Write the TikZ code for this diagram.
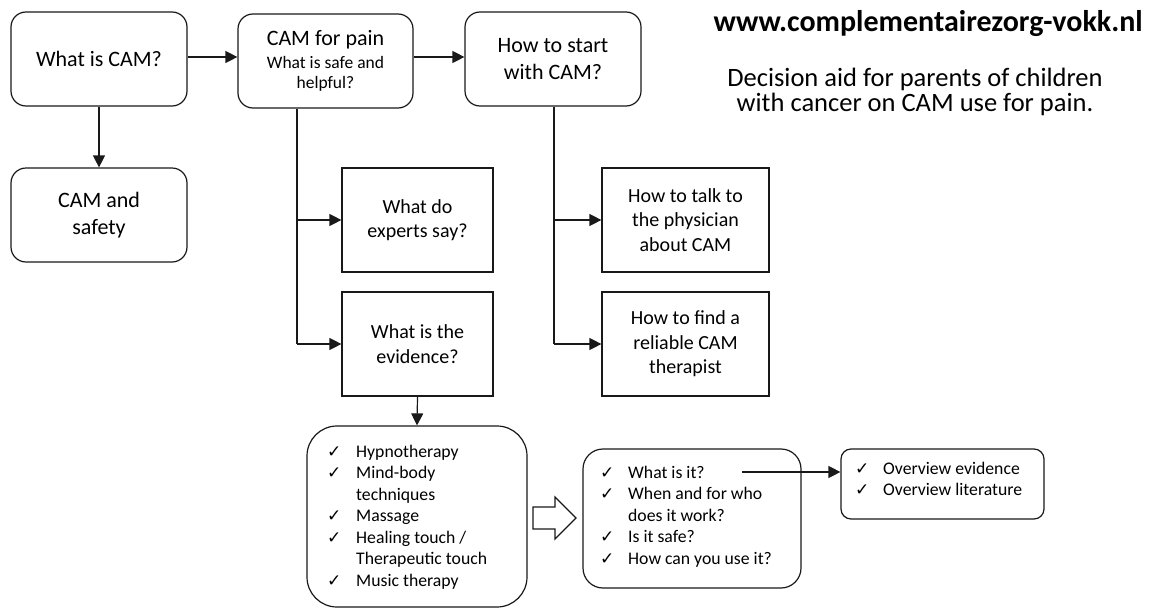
\documentclass[tikz,border=0pt]{standalone}
\usepackage{fontspec}
\setmainfont{Carlito}
\newfontfamily\dv{DejaVu Sans}
\usetikzlibrary{arrows.meta,calc}
\newcommand\ck{\makebox[29pt][l]{\dv\fontsize{17}{17}\selectfont ✓}}
\newcommand\cm{\makebox[28pt][l]{\dv\fontsize{17}{17}\selectfont ✓}}
\begin{document}
\begin{tikzpicture}[x=1pt,y=-1pt,
  line/.style={draw=black!90, line width=1.2pt},
  rbox/.style={line, rounded corners=15pt, minimum width=176pt, minimum height=94pt,
    inner sep=0pt, align=flush center, text width=170pt, font=\fontsize{22}{26.5}\selectfont},
  sbox/.style={line, minimum height=104pt, inner sep=0pt, align=flush center,
    font=\fontsize{20}{24.5}\selectfont},
  arr/.style={line, -{Triangle[length=12pt,width=12pt]}},
  listtxt/.style={anchor=base west, inner sep=0pt, font=\fontsize{17.7}{21.5}\selectfont}
]
\useasboundingbox (0,0) rectangle (1152,608);

% top row
\node[rbox] (wcam) at (99,59) {What is CAM?};
\node[rbox, minimum width=175pt] (cpain) at (325.5,61)
  {CAM for pain\par\vspace{3pt}{\fontsize{17.5}{20}\selectfont What is safe and\\helpful?\par}};
\node[rbox] (hstart) at (553,59) {How to start\\with CAM?};
\node[rbox] (csafe) at (99,215) {CAM and\\safety};

% square boxes
\node[sbox, minimum width=151pt, text width=145pt] (experts) at (417.5,220) {What do\\experts say?};
\node[sbox, minimum width=151pt, text width=145pt] (evid) at (417.5,344) {What is the\\evidence?};
\node[sbox, minimum width=167pt, text width=160pt] (talk) at (685.5,220) {How to talk to\\the physician\\about CAM};
\node[sbox, minimum width=167pt, text width=160pt] (find) at (685.5,344) {How to find a\\reliable CAM\\therapist};

% list boxes
\node[line, rounded corners=30pt, minimum width=220pt, minimum height=181pt, inner sep=0pt] (list) at (417,516.5) {};
\node[listtxt] (listt) at (327,457) {\begin{tabular}[t]{@{}l@{}l@{}}
\ck & Hypnotherapy\\
\ck & Mind-body\\
    & techniques\\
\ck & Massage\\
\ck & Healing touch /\\
    & Therapeutic touch\\
\ck & Music therapy
\end{tabular}};

\node[line, rounded corners=20pt, minimum width=218pt, minimum height=139pt, inner sep=0pt] (mid) at (692,518.5) {};
\node[listtxt] (midt) at (600,478) {\begin{tabular}[t]{@{}l@{}l@{}}
\cm & What is it?\\
\cm & When and for who\\
    & does it work?\\
\cm & Is it safe?\\
\cm & How can you use it?
\end{tabular}};

\node[line, rounded corners=10pt, minimum width=203pt, minimum height=70pt, inner sep=0pt] (over) at (942.5,484) {};
\node[listtxt] (overt) at (855,474) {\begin{tabular}[t]{@{}l@{}l@{}}
\cm & Overview evidence\\
\cm & Overview literature
\end{tabular}};

% header
\node[anchor=base east, inner sep=0pt, font=\bfseries\fontsize{30}{36}\selectfont] (url) at (1143,31) {www.complementairezorg-vokk.nl};
\node[inner sep=0pt, align=flush center, font=\fontsize{26.5}{25}\selectfont] (desc) at (915,92) {Decision aid for parents of children\\with cancer on CAM use for pain.};

% connectors
\draw[arr] (wcam.east |- 0,57) -- (cpain.west |- 0,57);
\draw[arr] (cpain.east |- 0,57) -- (hstart.west |- 0,57);
\draw[arr] (wcam.south) -- (csafe.north);
\coordinate (cpx) at (297,0);
\coordinate (hsx) at (554,0);
\draw[line] (cpx |- cpain.south) -- (cpx |- evid.west);
\draw[arr] (cpx |- experts.west) -- (experts.west);
\draw[arr] (cpx |- evid.west) -- (evid.west);
\draw[line] (hsx |- hstart.south) -- (hsx |- find.west);
\draw[arr] (hsx |- talk.west) -- (talk.west);
\draw[arr] (hsx |- find.west) -- (find.west);
\draw[arr] (evid.south) -- (list.north);
\coordinate (wi) at (742,472);
\draw[arr] (wi) -- (wi -| over.west);
% hollow arrow
\draw[line, fill=white, line join=miter] (533,507) -- (555,507) -- (555,497) -- (576,518) -- (555,539) -- (555,529) -- (533,529) -- cycle;
\end{tikzpicture}
\end{document}
